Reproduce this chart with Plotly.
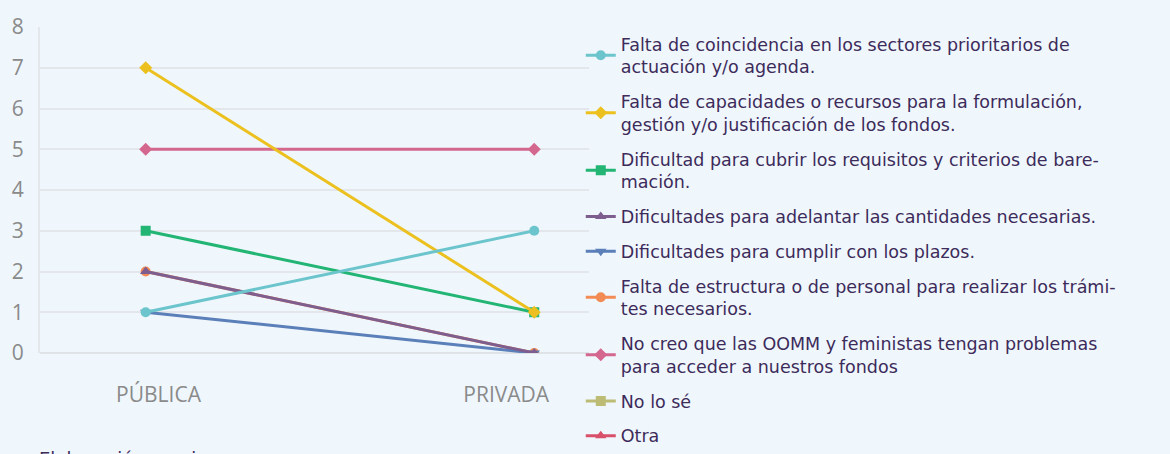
import plotly.graph_objects as go

categories = ["PÚBLICA", "PRIVADA"]
x_positions = [0, 1]
tick_positions = [0.033, 0.928]

series_names = [
    "Falta de coincidencia en los sectores prioritarios de<br>actuación y/o agenda.",
    "Falta de capacidades o recursos para la formulación,<br>gestión y/o justificación de los fondos.",
    "Dificultad para cubrir los requisitos y criterios de bare-<br>mación.",
    "Dificultades para adelantar las cantidades necesarias.",
    "Dificultades para cumplir con los plazos.",
    "Falta de estructura o de personal para realizar los trámi-<br>tes necesarios.",
    "No creo que las OOMM y feministas tengan problemas<br>para acceder a nuestros fondos",
    "No lo sé",
    "Otra",
]

coincidencia = [1, 3]
capacidades = [7, 1]
requisitos = [3, 1]
adelantar = [2, 0]
plazos = [1, 0]
estructura = [2, 0]
no_creo = [5, 5]
no_lo_se = [None, None]
otra = [None, None]

series_values = [coincidencia, capacidades, requisitos, adelantar, plazos,
                 estructura, no_creo, no_lo_se, otra]

colors = ["#6cc5cc", "#ecc01e", "#22b573", "#7d5e8e", "#5b7fb8",
          "#f28b54", "#d4678e", "#bcbc74", "#d9506a"]
symbols = ["circle", "diamond", "square", "triangle-up", "triangle-down",
           "circle", "diamond", "square", "triangle-up"]

fig = go.Figure()
# draw in reverse so the first series sits on top; legend keeps original order
for i in reversed(range(len(series_names))):
    fig.add_trace(go.Scatter(
        x=x_positions, y=series_values[i], name=series_names[i],
        mode="lines+markers",
        line=dict(color=colors[i], width=3),
        marker=dict(color=colors[i], symbol=symbols[i], size=10),
        legendrank=i + 1, legendgroup="g%d" % i,
    ))

bg = "#eff7fd"
fig.update_layout(
    width=1170, height=454,
    paper_bgcolor=bg, plot_bgcolor=bg,
    margin=dict(l=39, r=581, t=24, b=101),
    font=dict(family="Open Sans, sans-serif"),
    legend=dict(
        x=0.985, y=0.983, xanchor="left", yanchor="top",
        font=dict(size=17.5, color="#3d2b5a", family="DejaVu Sans, sans-serif"),
        bgcolor="rgba(0,0,0,0)", tracegroupgap=9, itemwidth=30,
        traceorder="grouped", maxheight=454,
    ),
    xaxis=dict(
        range=[-0.272, 1.141], tickmode="array",
        tickvals=tick_positions, ticktext=categories,
        showgrid=False, zeroline=False, showline=False,
        tickfont=dict(size=21, color="#8a8a8a"), ticklen=0,
        ticklabelstandoff=27, fixedrange=True,
    ),
    yaxis=dict(
        range=[0, 8], dtick=1, showgrid=True, gridcolor="#e3e7ec", gridwidth=1.5,
        zeroline=True, zerolinecolor="#dfe3e8", zerolinewidth=2,
        showline=True, linecolor="#e3e7ec", linewidth=2,
        tickfont=dict(size=21, color="#8a8a8a"), ticklabelstandoff=10,
    ),
    annotations=[dict(
        text="Elaboración propia", xref="paper", yref="paper",
        x=0.0, y=-0.285, xanchor="left", yanchor="top", showarrow=False,
        font=dict(size=18, color="#3d2b5a", family="DejaVu Sans, sans-serif"),
        xshift=-3,
    )],
)

fig.write_html("out.html", config={"displayModeBar": False},
               post_script="document.body.style.margin='0px';")
